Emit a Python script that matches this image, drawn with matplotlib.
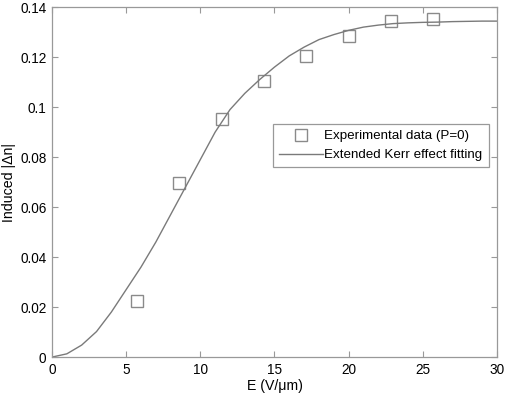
import numpy as np
import matplotlib
matplotlib.use("Agg")
import matplotlib.pyplot as plt
from matplotlib.ticker import FixedLocator

plt.rcParams['font.family'] = ['Liberation Sans', 'DejaVu Sans']

# experimental points
exp_E = [5.71, 8.57, 11.43, 14.29, 17.14, 20.0, 22.86, 25.71]
exp_dn = [0.0225, 0.0695, 0.0952, 0.1105, 0.1205, 0.1285, 0.1343, 0.1352]

# fitted curve, sampled at integer E
fit_E = list(range(0, 31))
fit_dn = [0.0, 0.0013, 0.0048, 0.0102, 0.018, 0.027, 0.036, 0.046, 0.057,
          0.068, 0.079, 0.090, 0.099, 0.1055, 0.111, 0.116, 0.1205, 0.124,
          0.127, 0.129, 0.1307, 0.132, 0.1328, 0.1334, 0.1337, 0.1339,
          0.134, 0.1342, 0.1343, 0.1344, 0.1344]

xticks = [0, 5, 10, 15, 20, 25, 30]
yticks = [0, 0.02, 0.04, 0.06, 0.08, 0.1, 0.12, 0.14]
ytick_labels = ["0", "0.02", "0.04", "0.06", "0.08", "0.1", "0.12", "0.14"]

fig = plt.figure(figsize=(5.05, 3.95), dpi=100)
ax = fig.add_axes([0.103, 0.096, 0.881, 0.886])

ax.plot(exp_E, exp_dn, 's', mfc='none', mec='#8a8a8a', ms=8.5, mew=1.0,
        label='Experimental data (P=0)')
ax.plot(fit_E, fit_dn, '-', color='#7a7a7a', lw=1.0,
        label='Extended Kerr effect fitting')

ax.set_xlim(0, 30)
ax.set_ylim(0, 0.14)
ax.xaxis.set_major_locator(FixedLocator(xticks))
ax.yaxis.set_major_locator(FixedLocator(yticks))
ax.set_yticklabels(ytick_labels)
ax.tick_params(direction='in', top=True, right=True, length=4,
               color='#999999', labelsize=9.8, pad=4)
for s in ax.spines.values():
    s.set_color('#999999')
    s.set_linewidth(0.9)

ax.set_xlabel('E (V/\u03bcm)', fontsize=10.2, labelpad=2)
ax.set_ylabel('Induced |\u0394n|', fontsize=10.2)
ax.yaxis.set_label_coords(-0.082, 0.5)

leg = ax.legend(loc='upper left', bbox_to_anchor=(0.497, 0.666),
                fontsize=9.6, fancybox=False, framealpha=1,
                edgecolor='#999999', handlelength=3.3, handletextpad=0.1,
                borderpad=0.45, labelspacing=0.5, borderaxespad=0)
leg.get_frame().set_linewidth(0.9)

fig.savefig('out.png', dpi=100)
